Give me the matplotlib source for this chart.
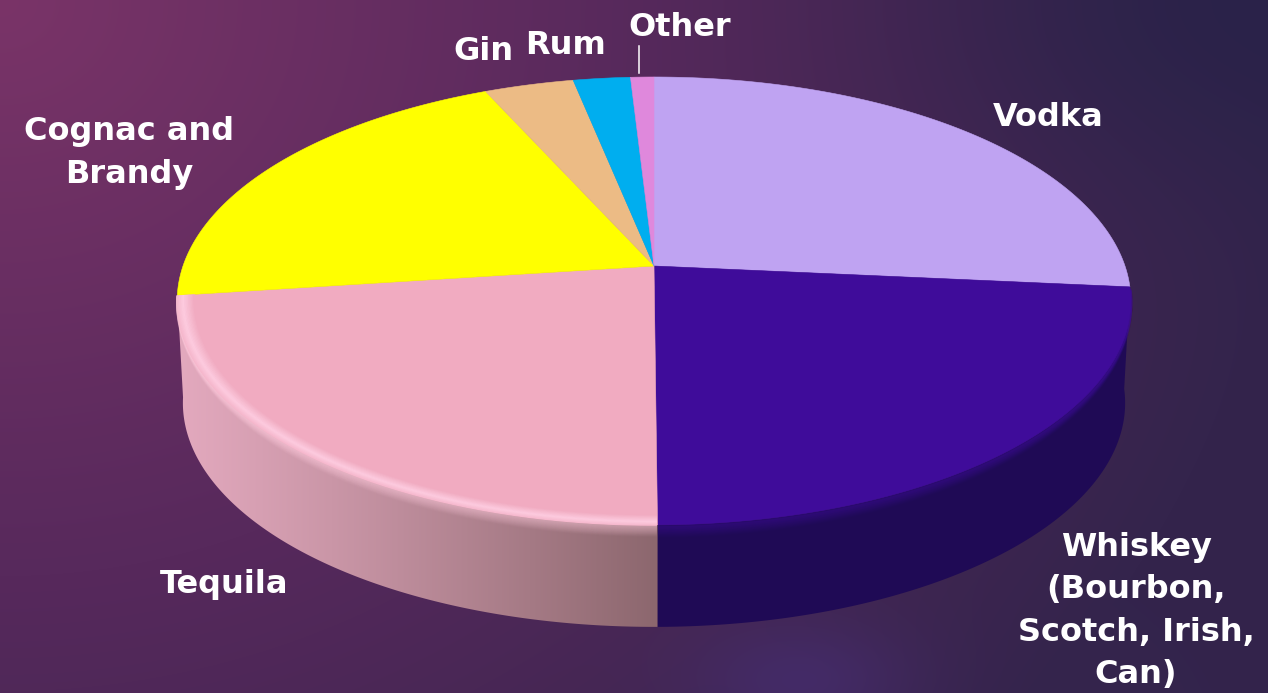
import numpy as np
import matplotlib
matplotlib.use('Agg')
import matplotlib.pyplot as plt
from matplotlib.patches import Polygon
from matplotlib.colors import to_rgb

# share of each spirit, clockwise from 12 o'clock
categories = ['Vodka', 'Whiskey', 'Tequila', 'Cognac and Brandy', 'Gin', 'Rum', 'Other']
shares = [26.5, 23.4, 23.0, 20.4, 3.53, 2.25, 0.92]
colors = ['#bfa3f2', '#3f0c9a', '#f1abc1', '#ffff00', '#ecbb85', '#00aeef', '#df88dc']

# label text and where it sits, in picture pixels
label_texts = ['Vodka', 'Whiskey\n(Bourbon,\nScotch, Irish,\nCan)', 'Tequila',
               'Cognac and\nBrandy', 'Gin', 'Rum', 'Other']
label_x = [1048, 1136, 224, 129, 483, 565, 680]
label_y = [118, 611, 584, 153, 52, 46, 27]

# perspective of the disc
CX, CY = 654, 266
W = 471
A, C = -177, 0.156
DEPTH = 102
LOWER_SCALE = 0.988


def project(theta, r=1.0):
    """Disc coordinates (clockwise angle from top) to picture pixels."""
    u = r * np.sin(theta)
    v = r * np.cos(theta)
    den = 1 + C * v
    return CX + W * u / den, (A * v + CY) / den


def lower_rim(theta):
    x, y = project(theta)
    return CX + (x - CX) * LOWER_SCALE, y + DEPTH


def blend(c1, c2, t):
    c1, c2 = np.array(to_rgb(c1)), np.array(to_rgb(c2))
    return tuple(c1 + (c2 - c1) * t)


fig = plt.figure(figsize=(12.68, 6.93), dpi=100)
ax = fig.add_axes([0, 0, 1, 1])

# background
yy, xx = np.mgrid[0:693, 0:1268]
d = np.clip(np.hypot(xx / 1268, yy / 693 * 0.62) / 1.03, 0, 1)[..., None]
stops = np.array([to_rgb('#7a3468'), to_rgb('#57295c'), to_rgb('#34244c')])
bg = np.where(d < 0.5, stops[0] + (stops[1] - stops[0]) * d / 0.5,
              stops[1] + (stops[2] - stops[1]) * (d - 0.5) / 0.5)
dark = np.exp(-(((xx - 1268) / 350) ** 2 + (yy / 200) ** 2))[..., None]
bg = bg + (np.array(to_rgb('#272248')) - bg) * dark * 0.8
glow = np.exp(-(((xx - 800) / 110) ** 2 + ((yy - 680) / 60) ** 2))[..., None]
bg = bg + (np.array(to_rgb('#452c6c')) - bg) * glow * 0.8
ax.imshow(bg, extent=(0, 1268, 693, 0), aspect='auto', zorder=0)

edges = np.radians(np.cumsum([0] + shares) / sum(shares) * 360)
spans = {name: (edges[i], edges[i + 1]) for i, name in enumerate(categories)}

# side walls
t = np.linspace(*spans['Whiskey'], 200)
pts = np.r_[np.c_[project(t)], np.c_[lower_rim(t)][::-1]]
ax.add_patch(Polygon(pts, closed=True, fc='#1f0a55', ec='none', zorder=1))

t = np.linspace(*spans['Tequila'], 200)
pts = np.r_[np.c_[project(t)], np.c_[lower_rim(t)][::-1]]
wall = Polygon(pts, closed=True, fc='none', ec='none', zorder=1)
ax.add_patch(wall)
ramp = np.linspace(0, 1, 256)[None, :, None]
wall_img = to_rgb('#e3a9be') + (np.array(to_rgb('#8c676e')) - to_rgb('#e3a9be')) * ramp ** 1.1
img = ax.imshow(wall_img, extent=(176, 658, 640, 280), aspect='auto', zorder=1)
img.set_clip_path(wall)

# bevel: soft fall-off from the top down over the wall
t = np.linspace(spans['Tequila'][0] + 0.001, spans['Tequila'][1], 200)
for s in np.arange(11, 0, -1):
    x, y = project(t)
    ax.plot(x, y + s * (-np.cos(t)).clip(0, 1) ** 0.6, color='#ffcbdd',
            alpha=(1 - s / 12) * 0.3, lw=1.6, zorder=2, solid_capstyle='butt')

t2 = np.linspace(spans['Whiskey'][0] + 0.01, spans['Whiskey'][1] - 0.001, 200)
for s in np.arange(12, 0, -1):
    x, y = project(t2)
    ax.plot(x, y + s * (-np.cos(t2)).clip(0, 1) ** 0.6, color='#3f0c9a',
            alpha=(1 - s / 13) * 0.22, lw=2.2, zorder=2, solid_capstyle='butt')

# top of the pie
for (a0, a1), col in zip(zip(edges[:-1], edges[1:]), colors):
    a = np.linspace(a0, a1, 120)
    x, y = project(a)
    ax.add_patch(Polygon(np.c_[np.r_[CX, x], np.r_[CY, y]], closed=True,
                         fc=col, ec=col, lw=0.4, zorder=3))

# highlight just inside the tequila rim
for r in np.linspace(1.0, 0.965, 14):
    k = 1 - abs(r - 0.987) / 0.022
    x, y = project(t, r)
    ax.plot(x, y, color=blend('#f1abc1', '#fdcbdf', max(k, 0)), lw=1.4, zorder=4,
            solid_capstyle='butt')

# labels
for txt, lx, ly in zip(label_texts, label_x, label_y):
    ax.text(lx, ly, txt, color='white', fontsize=23, fontweight='bold',
            family=['DejaVu Sans'], ha='center', va='center',
            linespacing=1.47, zorder=6)
ax.plot([639, 639], [46, 73], color='white', lw=1.1, zorder=6)

ax.set_xlim(0, 1268)
ax.set_ylim(693, 0)
ax.axis('off')
fig.savefig('out.png', dpi=100)
